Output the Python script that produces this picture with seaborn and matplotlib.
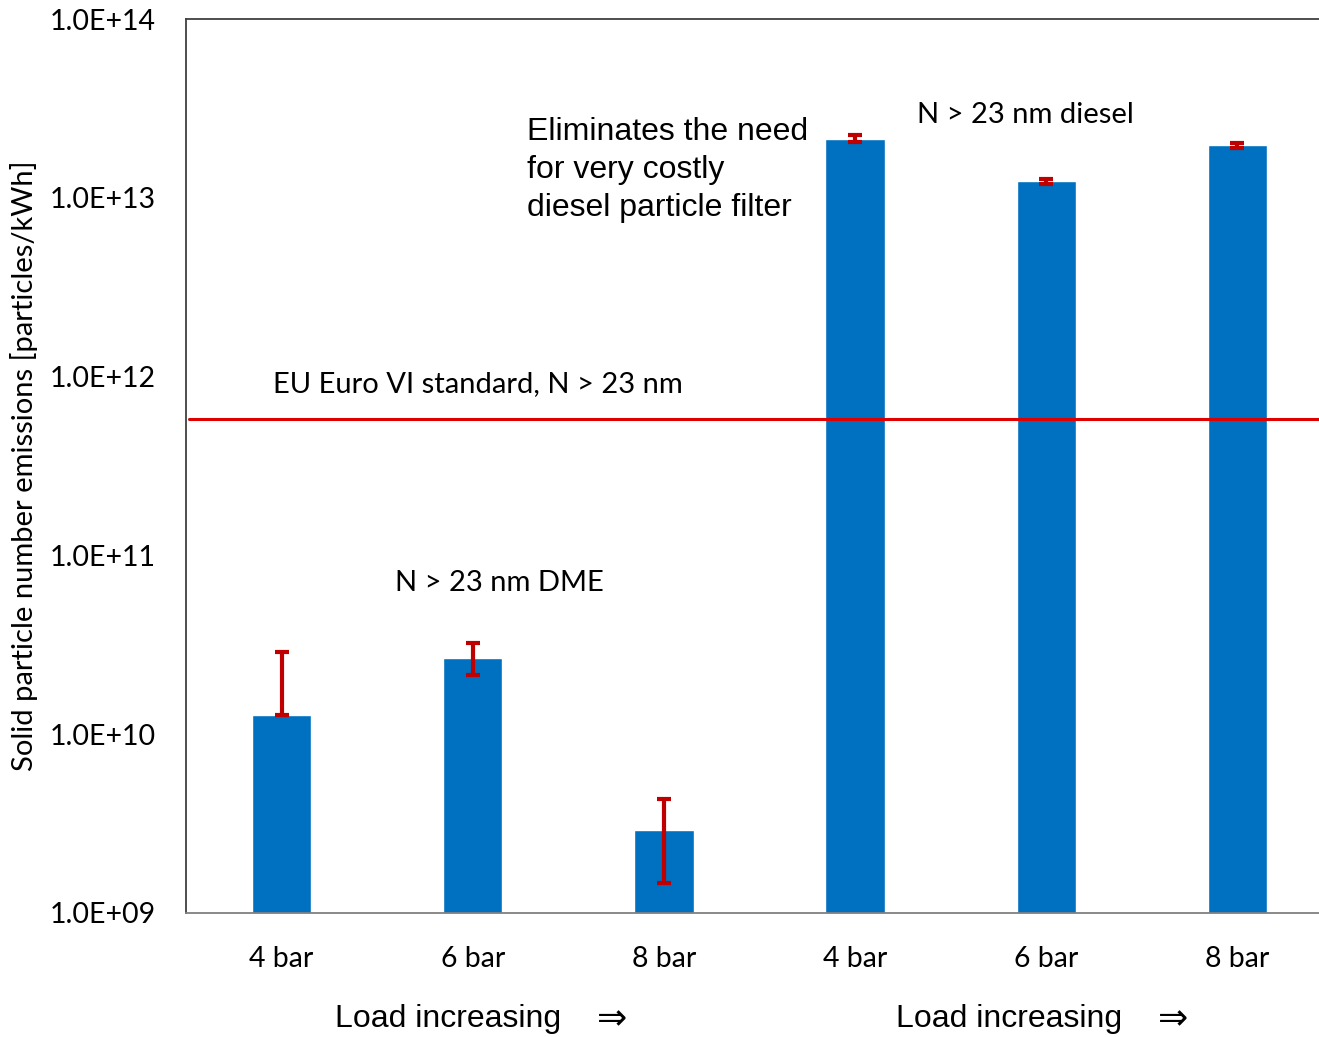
import numpy as np
import pandas as pd
import matplotlib
matplotlib.use("Agg")
import matplotlib.pyplot as plt
import seaborn as sns

# values
groups = ["DME", "DME", "DME", "diesel", "diesel", "diesel"]
loads = ["4 bar", "6 bar", "8 bar", "4 bar", "6 bar", "8 bar"]
pn_values = [1.28e10, 2.67e10, 2.91e9, 2.13e13, 1.24e13, 1.97e13]
err_low = [1.28e10, 2.14e10, 1.48e9, 2.05e13, 1.19e13, 1.90e13]
err_high = [2.88e10, 3.22e10, 4.34e9, 2.25e13, 1.28e13, 2.04e13]
euro_vi_limit = 5.8e11
y_ticks = [1e9, 1e10, 1e11, 1e12, 1e13, 1e14]

df = pd.DataFrame({
    "key": [f"{g} {l}" for g, l in zip(groups, loads)],
    "load": loads,
    "pn": pn_values,
})

sns.set_style("white")
plt.rcParams["font.family"] = ["Lato", "DejaVu Sans"]
plt.rcParams["text.color"] = "black"

fig = plt.figure(figsize=(13.19, 10.37), dpi=100)
ax = fig.add_axes([0.141, 0.1196, 0.8696, 0.862])

sns.barplot(data=df, x="key", y="pn", color="#0070C0", saturation=1,
            width=0.31, ax=ax)
ax.set_yscale("log", nonpositive="clip")

yerr = np.array([np.array(pn_values) - np.array(err_low),
                 np.array(err_high) - np.array(pn_values)])
ax.errorbar(np.arange(len(pn_values)), pn_values, yerr=yerr, fmt="none",
            ecolor="#C00000", elinewidth=3, capsize=5, capthick=3, zorder=5)

ax.axhline(euro_vi_limit, xmin=0.003, color="#E00000", lw=2.2, zorder=4)

ax.set_ylim(1e9, 1e14)
ax.set_xlim(-0.5, 5.5)
ax.set_yticks(y_ticks)
ax.set_yticklabels([f"{v:.1E}" for v in y_ticks])
ax.minorticks_off()
ax.set_xticks(range(len(loads)))
ax.set_xticklabels(loads)
ax.tick_params(axis="y", length=0, pad=22, labelsize=20.5, labelcolor="black")
ax.tick_params(axis="x", length=0, pad=24, labelsize=20.5, labelcolor="black")
ax.set_xlabel("")
ax.set_ylabel("Solid particle number emissions [particles/kWh]", fontsize=21,
              labelpad=8, color="black")

for side in ["left", "top"]:
    ax.spines[side].set_color("#404040")
    ax.spines[side].set_linewidth(1.3)
ax.spines["bottom"].set_color("#808080")
ax.spines["bottom"].set_linewidth(1.3)
ax.spines["right"].set_visible(False)

ax.text(0.0757, 0.592, "EU Euro VI standard, N > 23 nm", transform=ax.transAxes,
        fontsize=21, va="center", ha="left")
ax.text(0.182, 0.369, "N > 23 nm DME", transform=ax.transAxes,
        fontsize=21, va="center", ha="left")
ax.text(0.637, 0.893, "N > 23 nm diesel", transform=ax.transAxes,
        fontsize=21, va="center", ha="left")
ax.text(0.297, 0.890, "Eliminates the need\nfor very costly\ndiesel particle filter",
        transform=ax.transAxes, fontsize=23, va="top", ha="left", linespacing=1.33,
        family=["Liberation Sans", "DejaVu Sans"])

for x0 in [335 / 1319, 896 / 1319]:
    fig.text(x0, 0.017, "Load increasing", fontsize=23, va="center", ha="left",
             family=["Liberation Sans", "DejaVu Sans"])
    fig.text(x0 + 262 / 1319, 0.017, "\u21d2", fontsize=26, va="center", ha="left",
             family=["DejaVu Sans"])

fig.savefig("out.png", dpi=100)
